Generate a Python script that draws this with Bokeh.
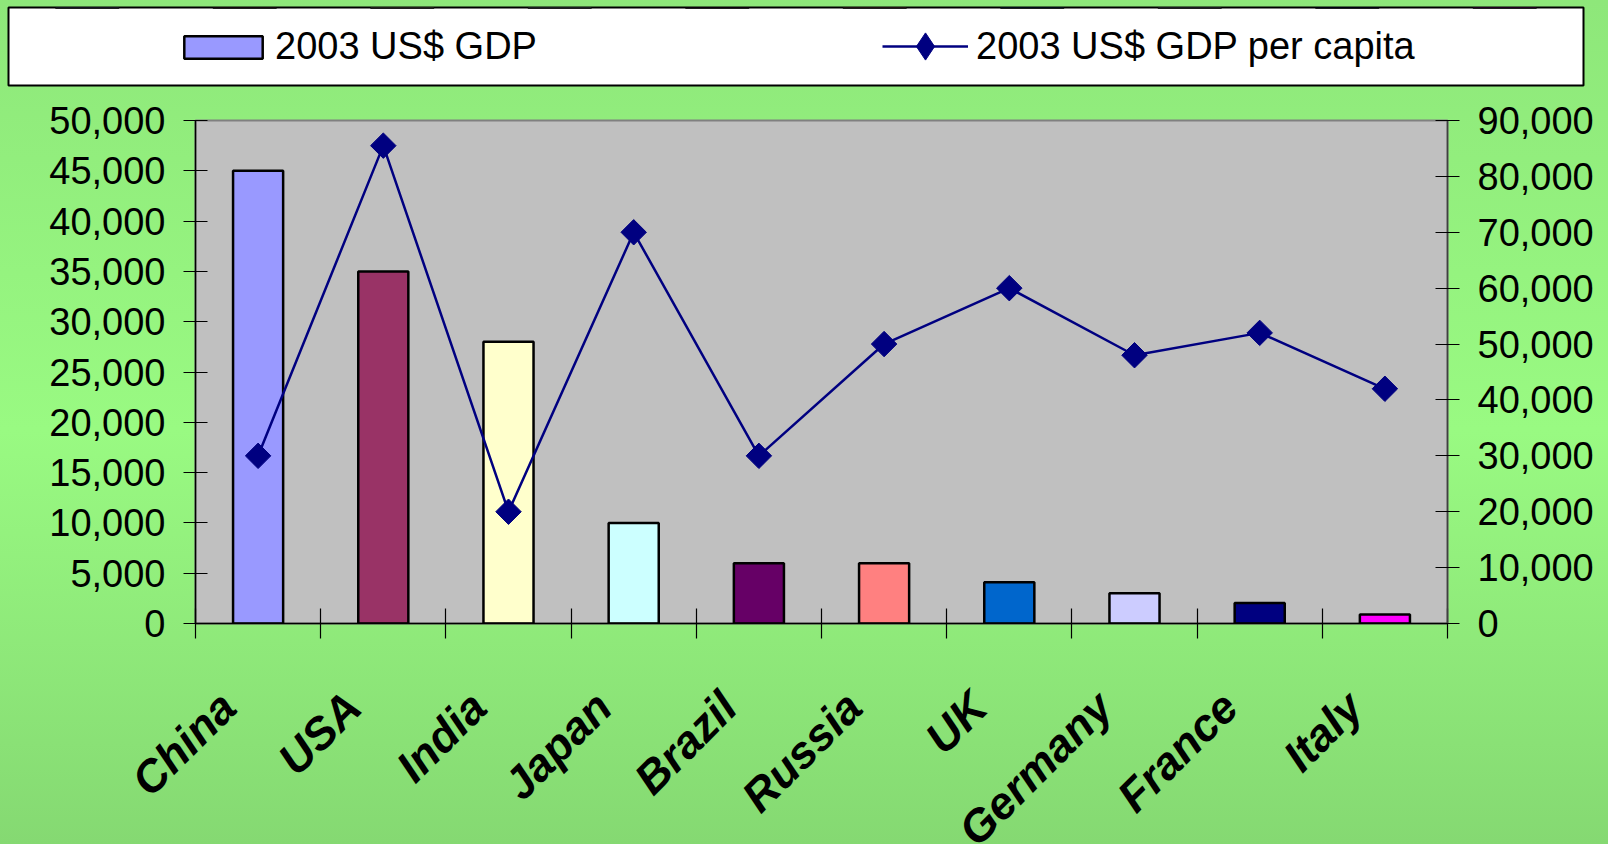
import math
from bokeh.plotting import figure
from bokeh.layouts import column
from bokeh.models import (Range1d, LinearAxis, FixedTicker, NumeralTickFormatter,
                          CustomJSTickFormatter, Legend, LegendItem,
                          ColumnDataSource, GlobalInlineStyleSheet)
from bokeh.embed import file_html
from bokeh.resources import INLINE

categories = ["China", "USA", "India", "Japan", "Brazil", "Russia", "UK", "Germany", "France", "Italy"]
gdp = [45000, 35000, 28000, 10000, 6000, 6000, 4100, 3000, 2050, 900]
gdp_per_capita = [30000, 85500, 20000, 70000, 30000, 50000, 60000, 48000, 52000, 42000]
bar_colors = ["#9999FF", "#993366", "#FFFFCC", "#CCFFFF", "#660066",
              "#FF8080", "#0066CC", "#CCCCFF", "#000080", "#FF00FF"]
left_ticks = [0, 5000, 10000, 15000, 20000, 25000, 30000, 35000, 40000, 45000, 50000]
right_ticks = [0, 10000, 20000, 30000, 40000, 50000, 60000, 70000, 80000, 90000]
legend_labels = ["2003 US$ GDP", "2003 US$ GDP per capita"]

n = len(categories)
centers = [i + 0.5 for i in range(n)]
bounds = [float(i) for i in range(n + 1)]
label_pos = [c - 0.24 for c in centers]

src = ColumnDataSource(dict(x=centers, gdp=gdp, pc=gdp_per_capita, color=bar_colors))

FONT = "Liberation Sans"
LINE_COLOR = "#000080"

page_css = GlobalInlineStyleSheet(css=(
    "html {margin:0; padding:0; overflow:hidden; "
    "background: linear-gradient(to bottom, #8EE77A 0px, #99FA82 430px, #85D972 844px, #85D972 900px) no-repeat;}"
    "body {margin:0; padding:0; overflow:hidden; background: transparent;}"))

# ---------------- legend strip ----------------
# A strip whose frame is the white legend box; its glyphs lie outside its (empty) view,
# so only the legend swatches are seen.
LEG_H = 90
lg = figure(width=1608, height=LEG_H, output_backend="svg", toolbar_location=None,
            x_range=Range1d(0, n), y_range=Range1d(-2, -1),
            min_border_left=8, min_border_right=25, min_border_top=7, min_border_bottom=LEG_H - 85)
lg.frame_align = False
lg.stylesheets = [page_css]
lg.border_fill_alpha = 0
lg.background_fill_color = "white"
lg.outline_line_color = "black"
lg.outline_line_width = 2
lg.axis.visible = False
lg.xgrid.visible = False
lg.ygrid.visible = False

r_bar = lg.vbar(x="x", top="gdp", width=0.4, source=src, fill_color="color",
                line_color="black", line_width=2.5)
r_line = lg.line(x="x", y="pc", source=src, line_color=LINE_COLOR, line_width=2.5)
r_pts = lg.scatter(x="x", y="pc", source=src, marker="diamond",
                   fill_color=LINE_COLOR, line_color=LINE_COLOR)

common = dict(orientation="horizontal", padding=0, margin=0, spacing=0,
              label_text_font=FONT, label_text_font_size="38px", label_text_color="black",
              border_line_alpha=0, background_fill_alpha=0)
leg1 = Legend(items=[LegendItem(label=legend_labels[0], renderers=[r_bar], index=0)],
              location=(166, 17), glyph_width=98, glyph_height=28, label_standoff=3, **common)
leg2 = Legend(items=[LegendItem(label=legend_labels[1], renderers=[r_line, r_pts], index=0)],
              location=(874, 5), glyph_width=86, glyph_height=68, label_standoff=8, **common)
lg.add_layout(leg1, "center")
lg.add_layout(leg2, "center")

# ---------------- main chart ----------------
p = figure(width=1608, height=900 - LEG_H, output_backend="svg", toolbar_location=None,
           x_range=Range1d(0, n), y_range=Range1d(0, 50000),
           min_border_left=195, min_border_right=161, min_border_top=120 - LEG_H,
           min_border_bottom=900 - LEG_H - (120 - LEG_H) - 503)
p.frame_align = False
p.border_fill_alpha = 0
p.background_fill_color = "#C0C0C0"
p.outline_line_color = "#808080"
p.outline_line_width = 2
p.xgrid.visible = False
p.ygrid.visible = False
p.extra_y_ranges = {"right": Range1d(0, 90000)}

bars = p.vbar(x="x", top="gdp", width=0.4, source=src, fill_color="color",
              line_color="black", line_width=2.5)
line = p.line(x="x", y="pc", source=src, y_range_name="right", line_color=LINE_COLOR, line_width=2.5)
pts = p.scatter(x="x", y="pc", source=src, y_range_name="right", marker="square",
                angle=math.pi / 4, size=18, fill_color=LINE_COLOR, line_color=LINE_COLOR)

# x axis
xa = p.xaxis[0]
xa.ticker = FixedTicker(ticks=label_pos, minor_ticks=bounds)
xa.formatter = CustomJSTickFormatter(args=dict(names=categories),
                                     code="return names[Math.floor(tick)];")
xa.major_tick_in = 0
xa.major_tick_out = 0
xa.minor_tick_in = 15
xa.minor_tick_out = 15
xa.minor_tick_line_color = "black"
xa.minor_tick_line_width = 1.2
xa.axis_line_color = "black"
xa.axis_line_width = 1.5
xa.major_label_orientation = math.pi / 4
xa.major_label_standoff = 61
xa.major_label_text_font = FONT
xa.major_label_text_font_style = "bold italic"
xa.major_label_text_font_size = "45px"
xa.major_label_text_color = "black"

# left axis
ya = p.yaxis[0]
ya.ticker = FixedTicker(ticks=left_ticks)
ya.formatter = NumeralTickFormatter(format="0,0")
ya.minor_tick_line_color = None
ya.major_tick_in = 12
ya.major_tick_out = 12
ya.major_tick_line_color = "black"
ya.axis_line_color = "black"
ya.axis_line_width = 1.5
ya.major_label_standoff = 18
ya.major_label_text_font = FONT
ya.major_label_text_font_size = "38px"
ya.major_label_text_color = "black"

# right axis
ra = LinearAxis(y_range_name="right", ticker=FixedTicker(ticks=right_ticks),
                formatter=NumeralTickFormatter(format="0,0"))
ra.minor_tick_line_color = None
ra.major_tick_in = 12
ra.major_tick_out = 12
ra.major_tick_line_color = "black"
ra.axis_line_color = "#404040"
ra.axis_line_width = 1.5
ra.major_label_standoff = 18
ra.major_label_text_font = FONT
ra.major_label_text_font_size = "38px"
ra.major_label_text_color = "black"
p.add_layout(ra, "right")

layout = column(lg, p, spacing=0)
open("out.html", "w").write(file_html(layout, INLINE))
